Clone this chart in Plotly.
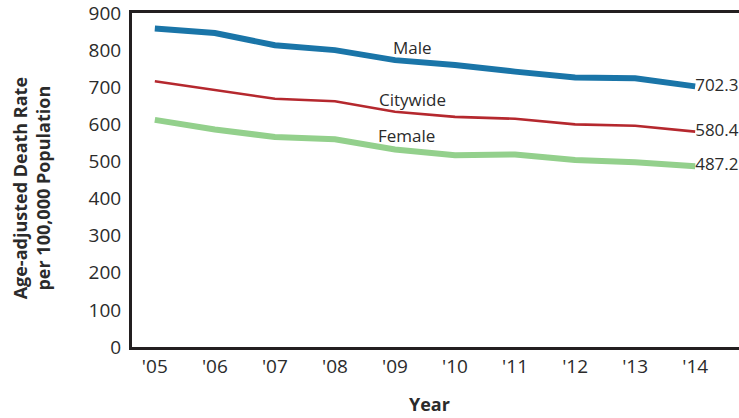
import plotly.graph_objects as go

years = ["'05", "'06", "'07", "'08", "'09", "'10", "'11", "'12", "'13", "'14"]
male = [858, 846, 813, 800, 773, 760, 742, 726, 724, 702.3]
citywide = [716, 692, 669, 662, 634, 620, 615, 600, 596, 580.4]
female = [612, 586, 566, 560, 532, 517, 519, 504, 498, 487.2]

series_names = ["Male", "Citywide", "Female"]
series_vals = [male, citywide, female]
colors = ["#1a75a8", "#b5282e", "#93d08c"]
widths = [6, 2.6, 6]

FONT = "Open Sans"
TXT = "#2b2b2b"

fig = go.Figure()
for name, vals, c, w in zip(series_names, series_vals, colors, widths):
    fig.add_trace(go.Scatter(
        x=years, y=vals, mode="lines", name=name,
        line=dict(color=c, width=w), showlegend=False,
    ))
    fig.add_trace(go.Scatter(
        x=[years[-1]], y=[vals[-1]], mode="text",
        text=[f"{vals[-1]:.1f}"], textposition="middle right",
        textfont=dict(family=FONT, size=17, color=TXT),
        showlegend=False, cliponaxis=False,
    ))

# series labels
label_pos = [(4.3, 808), (4.3, 668), (4.2, 570)]
for name, (lx, ly) in zip(series_names, label_pos):
    fig.add_annotation(x=lx, y=ly, xref="x", yref="y", text=name, showarrow=False,
                       font=dict(family=FONT, size=17, color=TXT))

fig.add_annotation(xref="paper", yref="paper", x=0, y=0.475, xshift=-101,
                   xanchor="center", yanchor="middle",
                   text="<b>Age-adjusted Death Rate<br>per 100,000 Population</b>",
                   textangle=-90, showarrow=False,
                   font=dict(family=FONT, size=18, color=TXT))
fig.add_annotation(xref="paper", yref="paper", x=0.49, y=0, yshift=-57,
                   xanchor="center", yanchor="middle",
                   text="<b>Year</b>", showarrow=False,
                   font=dict(family=FONT, size=18, color=TXT))

fig.update_layout(
    width=739, height=418,
    margin=dict(l=132, r=0, t=11, b=71),
    paper_bgcolor="white", plot_bgcolor="white",
    font=dict(family=FONT, color=TXT),
)
fig.update_xaxes(
    type="category", range=[-0.38, 9.73],
    showgrid=False, zeroline=False,
    showline=True, linecolor="#231f20", linewidth=3, mirror=True,
    ticks="", tickfont=dict(family=FONT, size=19, color=TXT),
)
fig.update_yaxes(
    range=[0, 900], tickvals=list(range(0, 901, 100)),
    showgrid=False, zeroline=False,
    showline=True, linecolor="#231f20", linewidth=3,
    ticks="", ticklabelstandoff=4, ticklabeloverflow="allow",
    tickfont=dict(family=FONT, size=19, color=TXT),
)

fig.write_html("out.html", config={"displayModeBar": False},
               post_script="document.body.style.margin='0';")
